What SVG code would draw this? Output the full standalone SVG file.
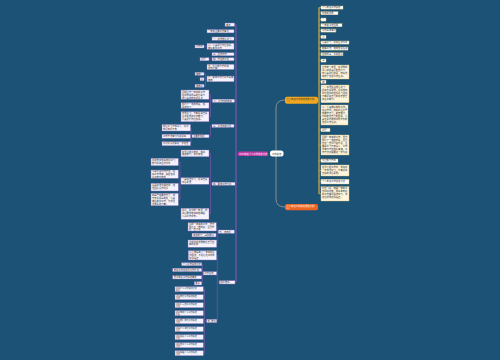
<svg xmlns="http://www.w3.org/2000/svg" width="500" height="360" viewBox="0 0 500 360">
<style>
.t{font-family:"Noto Sans CJK SC","Noto Sans",sans-serif;font-size:2.3px;fill:#333}
.tw{font-family:"Noto Sans CJK SC","Noto Sans",sans-serif;font-size:2.3px;fill:#fff}
.ts{font-size:2.05px}
.ln{fill:#f6f2fb;stroke:#8d74c2;stroke-width:.4}
.rn{fill:#ffffff;stroke:#d6bf7a;stroke-width:.4}
.rb{fill:#fff5dd;stroke:#d6bf7a;stroke-width:.4}
.lc{stroke:#6a55a8;stroke-width:.8;fill:none}
.trunk{stroke:#6a55a8;stroke-width:1.4;fill:none}
.yc{stroke:#b8a24a;stroke-width:.8;fill:none}
.ytrunk{stroke:#b8a24a;stroke-width:1.4;fill:none}
.gc{stroke:#8c8c8c;stroke-width:1;fill:none}
</style>
<rect width="500" height="360" fill="#1b5276"/>
<g id="connectors">
<path class="gc" d="M276,151 V108 Q276,100 285,100"/>
<path class="gc" d="M276,156 V199 Q276,207 285,207"/>
<path class="trunk" d="M236,24.6 V282.3"/>
<path class="lc" d="M234,24.6H236M234,31.2H236M234,38.5H236M234,46.3H236M234,54.2H236M234,59.2H236M234,66.8H236M234,78.8H236M234,100.8H236M234,125.8H236M235,183.7H236M234.3,231.7H236M235,282.3H236M236,153.8H238"/>
<path class="lc" d="M204,46.5H207M209,59.2H212M205.5,73.8V85.8M204,73.8H205.5M204,79.2H205.5M204,85.8H205.5M205.5,78.8H207"/>
<path class="lc" d="M210.5,94.6V116.7M209,94.6H210.5M209,105.5H210.5M209,116.7H210.5M210.5,100.8H212.5"/>
<path class="lc" d="M210.5,125.8V136.2M210.5,125.8H212M209,136.2H210.5M191,127.7V143.7M190.5,127.7H191M190.5,136.3H191M190.5,143.7H191M191,136.2H192"/>
<path class="lc" d="M210.5,153.3V213.8M209,153.3H210.5M209,181H210.5M209,213.8H210.5M210.5,183.7H212"/>
<path class="lc" d="M180,162V199.5M178.3,162H180M178.3,174.2H180M178.3,187.2H180M178.3,199.5H180M180,181H181"/>
<path class="lc" d="M217.3,226.8V243.6M216.3,226.8H217.3M216,235.1H217.3M216.7,243.6H217.3M217.3,231.7H218.3"/>
<path class="lc" d="M217.3,255.3V321M216.6,255.3H217.3M216.6,273.3H217.3M216.7,321H217.3M217.3,282.3H219.3"/>
<path class="lc" d="M202.6,264.2V283.3M201.7,264.2H202.6M201.7,270H202.6M201.7,277.4H202.6M201.7,283.3H202.6M202.6,273.3H203.3"/>
<path class="lc" d="M204.5,289.2V353.2M203.3,289.2H204.5M203.3,297.2H204.5M203.3,305.2H204.5M203.3,313.2H204.5M203.3,321.2H204.5M203.3,329.2H204.5M203.3,337.2H204.5M203.3,345.2H204.5M203.3,353.2H204.5M204.5,321H206.7"/>
<path class="ytrunk" d="M319,7.5V194"/>
<path class="yc" d="M318,100H319M319,7.5H321M319,13.2H321M319,19.5H321M319,25.2H321M319,30.5H321M319,36.8H321M319,42.5H321M319,48.5H321M319,54.2H321M319,60.5H321M319,72H321M319,81.8H321M319,93.8H321M319,115H321M319,130H321M319,145H321M319,160.6H321M319,170.5H321M319,181.6H321M319,193.8H321"/>
</g>
<g id="root"><rect x="270" y="150.5" width="13.5" height="6" rx="2.5" fill="#fff"/><text class="t" x="272" y="154.6" font-size="2.6">工作总结</text></g>
<g id="main-left"><rect x="238" y="151.5" width="30" height="4.5" rx="1.5" fill="#c03aa8"/><text class="tw" x="239.2" y="154.6" font-size="2.25">2023年度个人工作总结范文</text></g>
<g id="main-right1"><rect x="285" y="96.7" width="33" height="7" rx="2" fill="#f2a71e"/><text class="t" x="286.5" y="99.7" font-size="2.25">个人年度工作总结报告范文(<tspan x="286.5" dy="2.7">一)</tspan></text></g>
<g id="main-right2"><rect x="285" y="204" width="33" height="6.3" rx="2" fill="#ee6622"/><text class="tw" x="286.5" y="206.7" font-size="2.25">个人年度工作总结报告范文(<tspan x="286.5" dy="2.6">二)</tspan></text></g>
<g id="L1"><rect class="ln" x="225" y="23" width="9.5" height="3.3"/><text class="t" x="226" y="25.5">概述</text></g>
<g id="L2"><rect class="ln" x="207" y="29.6" width="27" height="3.3"/><text class="t" x="208" y="32.1">一年来主要工作情况</text></g>
<g id="L3"><rect class="ln" x="212" y="37" width="22" height="3.3"/><text class="t" x="213" y="39.5">一、加强理论学习</text></g>
<g id="L4"><rect class="ln" x="207" y="43.3" width="27" height="6"/><text class="t" x="208" y="45.8">二、认真履行岗位职责，<tspan x="208" dy="2.8">做好本职工作</tspan></text></g>
<g id="L4a"><rect class="ln" x="195" y="45" width="9" height="3"/><text class="t" x="196" y="47.3">工作中</text></g>
<g id="L5"><rect class="ln" x="212" y="52.7" width="22" height="3.1"/><text class="t" x="213" y="55.1">三、团结协作</text></g>
<g id="L6"><rect class="ln" x="212" y="57.7" width="22" height="3.1"/><text class="t" x="213" y="60.1">四、存在的不足</text></g>
<g id="L6a"><rect class="ln" x="200" y="57.7" width="9" height="3.1"/><text class="t" x="201" y="60.1">问题</text></g>
<g id="L7"><rect class="ln" x="207" y="64.3" width="27" height="5.2"/><text class="t" x="208" y="66.6">五、今后努力方向和<tspan x="208" dy="2.6">工作打算</tspan></text></g>
<g id="L8"><rect class="ln" x="207" y="76" width="27" height="5.7"/><text class="t" x="208" y="78.4">六、明年工作计划与具体<tspan x="208" dy="2.7">措施</tspan></text></g>
<g id="L8a"><rect class="ln" x="195" y="72.3" width="9" height="3"/><text class="t" x="196" y="74.6">措施一</text></g>
<g id="L8b"><rect class="ln" x="200" y="77.7" width="4" height="3"/><text class="t" x="200.8" y="80">二</text></g>
<g id="L8c"><rect class="ln" x="195" y="84.3" width="9" height="3"/><text class="t" x="196" y="86.6">措施三</text></g>
<g id="P"><rect class="ln" x="212.5" y="99.2" width="22" height="3.2"/><text class="t" x="213.5" y="101.6">二、工作中的收获</text></g>
<g id="P1"><rect class="ln" x="181" y="90" width="28" height="9.3"/><text class="t" x="182" y="92.5">回顾过去一年来的工作<tspan x="182" dy="3">在领导和同事的帮助下</tspan><tspan x="182" dy="3">我认真完成各项任务</tspan></text></g>
<g id="P2"><rect class="ln" x="181" y="102.7" width="28" height="5.6"/><text class="t" x="182" y="105">取得了一定的成绩，现<tspan x="182" dy="2.7">总结如下</tspan></text></g>
<g id="P3"><rect class="ln" x="181" y="111.7" width="28" height="10"/><text class="t" x="182" y="114.2">加强学习，不断提高自身<tspan x="182" dy="3">业务素质和工作能力，</tspan><tspan x="182" dy="3">认真履行岗位职责。</tspan></text></g>
<g id="A"><rect class="ln" x="212" y="124.3" width="22" height="3.1"/><text class="t" x="213" y="126.7">三、工作中的不足</text></g>
<g id="B"><rect class="ln" x="192" y="134.7" width="17" height="3.1"/><text class="t" x="193" y="137.1">主要表现在</text></g>
<g id="B1"><rect class="ln" x="162" y="124.5" width="28.5" height="6.5"/><text class="t" x="163" y="126.9">理论学习不够深入，对新<tspan x="163" dy="2.8">知识掌握不够</tspan></text></g>
<g id="B2"><rect class="ln" x="162" y="134.3" width="28.5" height="4"/><text class="t" x="163" y="137">工作方法有待改进提高</text></g>
<g id="B3"><rect class="ln" x="162" y="141.7" width="28.5" height="4"/><text class="t" x="163" y="144.4">创新意识还需进一步增强</text></g>
<g id="C1"><rect class="ln" x="181" y="150" width="28" height="6.7"/><text class="t" x="182" y="152.5">在今后的工作中，我将<tspan x="182" dy="2.8">继续努力，扬长避短</tspan></text></g>
<g id="C"><rect class="ln" x="212" y="182.2" width="23" height="3.1"/><text class="t" x="213" y="184.6">四、明年工作计划</text></g>
<g id="D"><rect class="ln" x="181" y="177.7" width="28" height="6.6"/><text class="t" x="182" y="180.2">一是加强学习，提高自身<tspan x="182" dy="2.8">综合素质</tspan></text></g>
<g id="D1"><rect class="ln" x="151" y="158.3" width="27.3" height="7.4"/><text class="t" x="152" y="160.8">积极参加各类培训学习，<tspan x="152" dy="3">努力提高业务水平</tspan></text></g>
<g id="D2"><rect class="ln" x="151" y="170" width="27.3" height="8.3"/><text class="t" x="152" y="172.4">二是改进工作方法，提<tspan x="152" dy="2.7">高工作效率，确保各项</tspan><tspan x="152" dy="2.6">任务按时完成</tspan></text></g>
<g id="D3"><rect class="ln" x="151" y="183.3" width="27.3" height="7.7"/><text class="t" x="152" y="185.8">三是加强沟通协调，增<tspan x="152" dy="3">强团队合作意识</tspan></text></g>
<g id="D4"><rect class="ln" x="151" y="193.3" width="27.3" height="12.4"/><text class="t" x="152" y="195.8">四是严格要求自己，遵<tspan x="152" dy="3">守各项规章制度，认真</tspan><tspan x="152" dy="3">做好本职工作，为单位</tspan><tspan x="152" dy="3">发展贡献力量。</tspan></text></g>
<g id="C3"><rect class="ln" x="181" y="208.3" width="28" height="11"/><text class="t" x="182" y="210.8">总之，在新的一年里，我<tspan x="182" dy="3">将以更加饱满的热情投</tspan><tspan x="182" dy="3">入到工作中去。</tspan></text></g>
<g id="E"><rect class="ln" x="218.3" y="230" width="16" height="3.4"/><text class="t" x="219.3" y="232.5">五、结束语</text></g>
<g id="E1"><rect class="ln" x="188" y="222.7" width="28.3" height="8.3"/><text class="t" x="189" y="225.1">回顾一年来的工作，虽然<tspan x="189" dy="2.7">取得了一些成绩，但也存</tspan><tspan x="189" dy="2.6">在一些不足</tspan></text></g>
<g id="E2"><rect class="ln" x="192" y="233.3" width="24" height="3.6"/><text class="t" x="193" y="235.9">继续努力，争取更好</text></g>
<g id="E3"><rect class="ln" x="188" y="240" width="28.7" height="7.3"/><text class="t" x="189" y="242.5">为单位的发展做出自己应<tspan x="189" dy="2.9">有的贡献</tspan></text></g>
<g id="F"><rect class="ln" x="219.3" y="280.7" width="15.7" height="3.3"/><text class="t" x="220.3" y="283.1">相关推荐</text></g>
<g id="F1"><rect class="ln" x="188.3" y="250.7" width="28.3" height="9.3"/><text class="t" x="189.3" y="253.2">以上就是本人一年来的工<tspan x="189.3" dy="2.9">作总结，不足之处请领导</tspan><tspan x="189.3" dy="2.9">批评指正</tspan></text></g>
<g id="H"><rect class="ln" x="203.3" y="271.7" width="13.3" height="3.3"/><text class="t" x="204.3" y="274.1">工作总结</text></g>
<g id="H1"><rect class="ln" x="181.7" y="262.7" width="20" height="3"/><text class="t" x="182.5" y="265">个人工作总结范文</text></g>
<g id="H2"><rect class="ln" x="172.7" y="268.3" width="29" height="3.3"/><text class="t" x="173.7" y="270.7">年度工作总结及工作计划</text></g>
<g id="H3"><rect class="ln" x="172.7" y="275.7" width="29" height="3.3"/><text class="t" x="173.7" y="278.1">员工年度工作总结精选</text></g>
<g id="H4"><rect class="ln" x="194.3" y="281.7" width="7.3" height="3.3"/><text class="t" x="195.3" y="284.1">更多</text></g>
<g id="G"><rect class="ln" x="206.7" y="319.3" width="10" height="3.4"/><text class="t ts" x="207.5" y="321.7">热门推荐</text></g>
<g id="G1"><rect class="ln" x="175" y="286.7" width="28.3" height="5"/><text class="t ts" x="176" y="288.7">2023个人工作总结范文<tspan x="176" dy="2.3">精选</tspan></text></g>
<g id="G2"><rect class="ln" x="175" y="294.7" width="28.3" height="5"/><text class="t ts" x="176" y="296.7">2023年度工作总结报告<tspan x="176" dy="2.3">范文</tspan></text></g>
<g id="G3"><rect class="ln" x="175" y="302.7" width="28.3" height="5"/><text class="t ts" x="176" y="304.7">2023公司员工工作总结<tspan x="176" dy="2.3">范文</tspan></text></g>
<g id="G4"><rect class="ln" x="175" y="310.7" width="28.3" height="5"/><text class="t ts" x="176" y="312.7">2023年终个人工作总结<tspan x="176" dy="2.3">模板</tspan></text></g>
<g id="G5"><rect class="ln" x="175" y="318.7" width="28.3" height="5"/><text class="t ts" x="176" y="320.7">2023部门年度工作总结<tspan x="176" dy="2.3">范文</tspan></text></g>
<g id="G6"><rect class="ln" x="175" y="326.7" width="28.3" height="5"/><text class="t ts" x="176" y="328.7">2023个人年度工作总结<tspan x="176" dy="2.3">大全</tspan></text></g>
<g id="G7"><rect class="ln" x="175" y="334.7" width="28.3" height="5"/><text class="t ts" x="176" y="336.7">2023教师个人工作总结<tspan x="176" dy="2.3">范文</tspan></text></g>
<g id="G8"><rect class="ln" x="175" y="342.7" width="28.3" height="5"/><text class="t ts" x="176" y="344.7">2023员工个人工作总结<tspan x="176" dy="2.3">范文</tspan></text></g>
<g id="G9"><rect class="ln" x="175" y="350.7" width="28.3" height="5"/><text class="t ts" x="176" y="352.7">2023销售个人工作总结<tspan x="176" dy="2.3">范文</tspan></text></g>
<g id="R1"><rect class="rn" x="321" y="6" width="22" height="3.1"/><text class="t" x="322" y="8.4">个人年度工作总结</text></g>
<g id="R2"><rect class="rn" x="321" y="11.7" width="17" height="3.1"/><text class="t" x="322" y="14.1">尊敬的领导</text></g>
<g id="R3"><rect class="rn" x="321" y="18" width="5" height="3.1"/><text class="t" x="322.3" y="20.4">一</text></g>
<g id="R4"><rect class="rn" x="321" y="23.7" width="21" height="3.1"/><text class="t" x="322" y="26.1">一年来工作回顾</text></g>
<g id="R5"><rect class="rn" x="321" y="29" width="15" height="3.1"/><text class="t" x="322" y="31.4">工作基本情况</text></g>
<g id="R6"><rect class="rn" x="321" y="35.3" width="5" height="3.1"/><text class="t" x="322.3" y="37.7">二</text></g>
<g id="R7"><rect class="rn" x="321" y="41" width="28" height="3.1"/><text class="t" x="322" y="43.4">认真学习，提高业务水平</text></g>
<g id="R8"><rect class="rn" x="321" y="47" width="27" height="3.1"/><text class="t" x="322" y="49.4">踏实工作，完成各项任务</text></g>
<g id="R9"><rect class="rn" x="321" y="52.7" width="22" height="3.1"/><text class="t" x="322" y="55.1">团结同事，积极配合</text></g>
<g id="R10"><rect class="rn" x="321" y="59" width="5" height="3.1"/><text class="t" x="322.3" y="61.4">三</text></g>
<g id="R11"><rect class="rb" x="321" y="65" width="28" height="14"/><text class="t" x="322" y="67.6">过去的一年里，在领导的<tspan x="322" dy="3">关心和同事们的支持下，</tspan><tspan x="322" dy="3">我认真履行职责，较好地</tspan><tspan x="322" dy="3">完成了各项工作任务。</tspan></text></g>
<g id="R12"><rect class="rn" x="321" y="80.3" width="5" height="3.1"/><text class="t" x="322.3" y="82.7">四</text></g>
<g id="R13"><rect class="rb" x="321" y="85" width="28" height="17.7"/><text class="t" x="322" y="87.6">一、加强政治理论学习，<tspan x="322" dy="3">提高自身素质。积极参加</tspan><tspan x="322" dy="3">单位组织的各项学习活动</tspan><tspan x="322" dy="3">不断提高自己的思想觉悟</tspan><tspan x="322" dy="3">和业务能力。</tspan></text></g>
<g id="R14"><rect class="rb" x="321" y="105" width="27" height="20"/><text class="t" x="322" y="107.6">二、认真做好本职工作。<tspan x="322" dy="3">在工作中，我始终坚持严</tspan><tspan x="322" dy="3">格要求自己，勤奋努力，</tspan><tspan x="322" dy="3">时刻牢记自己的职责，认</tspan><tspan x="322" dy="3">真负责地完成领导交办的</tspan><tspan x="322" dy="3">各项工作任务。</tspan></text></g>
<g id="R15"><rect class="rn" x="321" y="128.3" width="9" height="3.4"/><text class="t" x="322" y="130.8">问题</text></g>
<g id="R16"><rect class="rb" x="321" y="135" width="28" height="20"/><text class="t" x="322" y="137.6">回顾一年来的工作，虽然<tspan x="322" dy="3">取得了一定的成绩，但也</tspan><tspan x="322" dy="3">存在一些问题和不足，主</tspan><tspan x="322" dy="3">要是学习不够深入，工作</tspan><tspan x="322" dy="3">中有时存在急躁情绪，工</tspan><tspan x="322" dy="3">作方法还需要进一步改进</tspan></text></g>
<g id="R17"><rect class="rn" x="321" y="159" width="17" height="3.3"/><text class="t" x="322" y="161.4">今后努力方向</text></g>
<g id="R18"><rect class="rb" x="321" y="165" width="28" height="11"/><text class="t" x="322" y="167.6">在今后的工作中，我将进<tspan x="322" dy="3">一步加强学习，不断提高</tspan><tspan x="322" dy="3">自身的综合素质。</tspan></text></g>
<g id="R19"><rect class="rn" x="321" y="179.3" width="28" height="4.7"/><text class="t" x="322" y="182.4">个人年度工作总结范文</text></g>
<g id="R20"><rect class="rb" x="321" y="186.7" width="28" height="14.3"/><text class="t" x="322" y="189.3">时光飞逝，转眼一年的工<tspan x="322" dy="3">作即将结束，现将本年度</tspan><tspan x="322" dy="3">的工作情况总结如下，请</tspan><tspan x="322" dy="3">各位领导批评指正。</tspan></text></g>
</svg>
